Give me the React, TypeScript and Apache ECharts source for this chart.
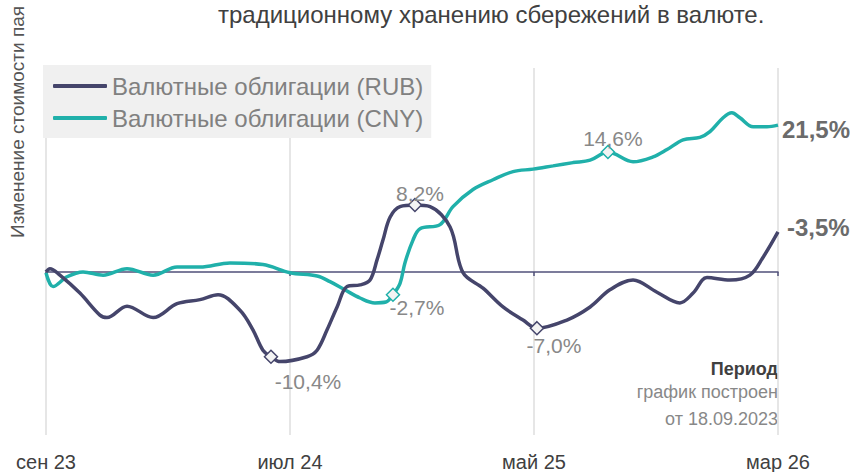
import React, { useEffect, useRef } from "react";
import * as echarts from "echarts";

const titleLine = "традиционному хранению сбережений в валюте.";
const yAxisName = "Изменение стоимости пая";
const seriesNames = ["Валютные облигации (RUB)", "Валютные облигации (CNY)"];
const tickLabels = ["сен 23", "июл 24", "май 25", "мар 26"];
const endLabels = ["-3,5%", "21,5%"];
const noteLines = ["Период", "график построен", "от 18.09.2023"];

// [month index since sep 23, change %]
const rub: [number, number][] = [
  [0, 0], [0.16, 0.4], [0.57, -0.4], [1.39, -2.6], [2.21, -5.3], [2.5, -5.6],
  [3.32, -4.2], [4.39, -5.6], [5.37, -3.9], [6.31, -3.4], [7.05, -2.8], [7.95, -4.7],
  [8.48, -7.1], [8.89, -9.6], [9.22, -10.4], [9.59, -11.0], [10.7, -10.4], [11.11, -9.6],
  [11.52, -7.1], [11.93, -4.3], [12.34, -1.8], [12.87, -1.6], [13.28, -1.0], [13.57, 1.5],
  [13.81, 3.9], [14.1, 6.7], [14.51, 8.0], [15.12, 8.2], [15.74, 8.0], [16.56, 5.5],
  [17.09, -0.1], [17.91, -2.0], [18.73, -4.3], [19.55, -5.9], [20.12, -6.9], [21.35, -5.9],
  [22.3, -4.3], [23.11, -2.2], [24.06, -1.0], [25.04, -2.5], [25.98, -3.8], [26.52, -2.6],
  [27.09, -0.7], [28.03, -1.0], [28.85, -0.4], [29.39, 1.8], [30, 4.9],
];
const cny: [number, number][] = [
  [0, -0.1], [0.29, -1.8], [0.86, -0.6], [1.52, 0], [2.34, -0.4], [3.32, 0.4],
  [4.39, -0.4], [5.37, 0.6], [6.31, 0.6], [7.54, 1.1], [8.89, 0.9], [10.0, -0.1],
  [11.11, -0.5], [11.64, -1.2], [12.25, -2.2], [12.87, -3.2], [13.48, -3.8], [13.93, -3.7],
  [14.22, -2.8], [14.51, -1.4], [14.71, 1.1], [15.04, 3.9], [15.33, 5.3], [16.15, 5.8],
  [16.68, 8.0], [17.5, 10.1], [18.32, 11.3], [19.14, 12.3], [19.96, 12.6], [20.78, 13.0],
  [21.6, 13.4], [22.3, 13.7], [23.03, 14.7], [24.06, 13.5], [24.88, 14.1], [25.45, 15.0],
  [26.11, 16.2], [26.8, 16.5], [27.21, 17.2], [27.75, 18.9], [28.11, 19.5], [28.44, 18.9],
  [28.98, 17.8], [29.55, 17.8], [30, 18.0],
];
const rubMarkIdx = [14, 27, 34];
const rubMarkText = ["-10,4%", "8,2%", "-7,0%"];
const cnyMarkIdx = [18, 32];
const cnyMarkText = ["-2,7%", "14,6%"];

const FONT = "Arial, 'Liberation Sans', sans-serif";
const RUB_C = "#45456b";
const CNY_C = "#20b0aa";

const rubMarkStyle = [
  { position: "bottom", offset: [37, 3] },
  { position: "top", offset: [5, 10] },
  { position: "bottom", offset: [17, -4] },
];
const cnyMarkStyle = [
  { position: "bottom", offset: [24, -9] },
  { position: "top", offset: [5, 8] },
];

function marks(data: [number, number][], idx: number[], text: string[], styles: any[], color: string) {
  return {
    symbol: "diamond",
    symbolSize: 13,
    silent: true,
    itemStyle: { color: "#f3f3f3", borderColor: color, borderWidth: 1.5 },
    label: { show: true, color: "#888", fontSize: 21, fontFamily: FONT },
    data: idx.map((i, k) => ({
      coord: data[i],
      label: { formatter: text[k], position: styles[k].position, offset: styles[k].offset, distance: 4 },
    })),
  };
}

export default function App() {
  const ref = useRef<HTMLDivElement>(null);
  useEffect(() => {
    if (!ref.current) return;
    const chart = echarts.init(ref.current, undefined, { renderer: "svg" });
    chart.setOption({
      animation: false,
      backgroundColor: "#ffffff",
      textStyle: { fontFamily: FONT },
      grid: { left: 46, right: 72, top: 68, bottom: 37 },
      legend: {
        data: seriesNames,
        orient: "vertical",
        left: 43,
        top: 65,
        backgroundColor: "#f0f0f0",
        padding: [9, 8, 8, 10],
        itemGap: 8,
        itemWidth: 54,
        itemHeight: 4,
        icon: "roundRect",
        textStyle: { fontSize: 24, color: "#808080", fontFamily: FONT },
      },
      xAxis: [
        {
          type: "value", min: 0, max: 30, interval: 10,
          axisLine: { onZero: true, lineStyle: { color: "#50507a", width: 1.5 } },
          axisTick: { show: true, length: 4, lineStyle: { color: "#50507a", width: 1.5 } },
          axisLabel: { show: false },
          splitLine: { show: true, lineStyle: { color: "#dedede", width: 1.5 } },
        },
        {
          type: "value", min: 0, max: 30, interval: 10, position: "bottom",
          axisLine: { show: false, onZero: false },
          axisTick: { show: false },
          splitLine: { show: false },
          axisLabel: {
            show: true, showMinLabel: true, showMaxLabel: true,
            formatter: (v: number) => tickLabels[Math.round(v / 10)] ?? "",
            fontSize: 20, color: "#404040", margin: 17, fontFamily: FONT,
          },
        },
      ],
      yAxis: {
        type: "value", min: -20, max: 25,
        axisLine: { show: false }, axisTick: { show: false },
        axisLabel: { show: false }, splitLine: { show: false },
      },
      series: [
        {
          type: "line", name: seriesNames[0], data: rub, smooth: 0.35, symbol: "none",
          lineStyle: { color: RUB_C, width: 3.5 }, itemStyle: { color: RUB_C },
          endLabel: { show: true, formatter: endLabels[0], color: "#6b6b6b", fontSize: 24, fontWeight: "bold", distance: 9, offset: [0, -4], fontFamily: FONT },
          markPoint: marks(rub, rubMarkIdx, rubMarkText, rubMarkStyle, RUB_C),
          z: 3,
        },
        {
          type: "line", name: seriesNames[1], data: cny, smooth: 0.35, symbol: "none",
          lineStyle: { color: CNY_C, width: 3.5 }, itemStyle: { color: CNY_C },
          endLabel: { show: true, formatter: endLabels[1], color: "#6b6b6b", fontSize: 24, fontWeight: "bold", distance: 4, offset: [0, 4], fontFamily: FONT },
          markPoint: marks(cny, cnyMarkIdx, cnyMarkText, cnyMarkStyle, CNY_C),
          z: 2,
        },
      ],
      graphic: [
        { type: "text", x: 218, y: 14, style: { text: titleLine, fontSize: 24, fill: "#404040", fontFamily: FONT, verticalAlign: "middle" } },
        { type: "text", x: 17, y: 122, rotation: Math.PI / 2, style: { text: yAxisName, fontSize: 19, fill: "#555", fontFamily: FONT, align: "center", verticalAlign: "middle" } },
        { type: "text", x: 778, y: 369, style: { text: noteLines[0], fontSize: 18, fontWeight: "bold", fill: "#404040", fontFamily: FONT, align: "right", verticalAlign: "middle" } },
        { type: "text", x: 778, y: 392, style: { text: noteLines[1], fontSize: 18, fill: "#888", fontFamily: FONT, align: "right", verticalAlign: "middle" } },
        { type: "text", x: 778, y: 419, style: { text: noteLines[2], fontSize: 18, fill: "#888", fontFamily: FONT, align: "right", verticalAlign: "middle" } },
      ],
    });
    return () => chart.dispose();
  }, []);
  return <div ref={ref} style={{ position: "fixed", left: 0, top: 0, width: 850, height: 472 }} />;
}
